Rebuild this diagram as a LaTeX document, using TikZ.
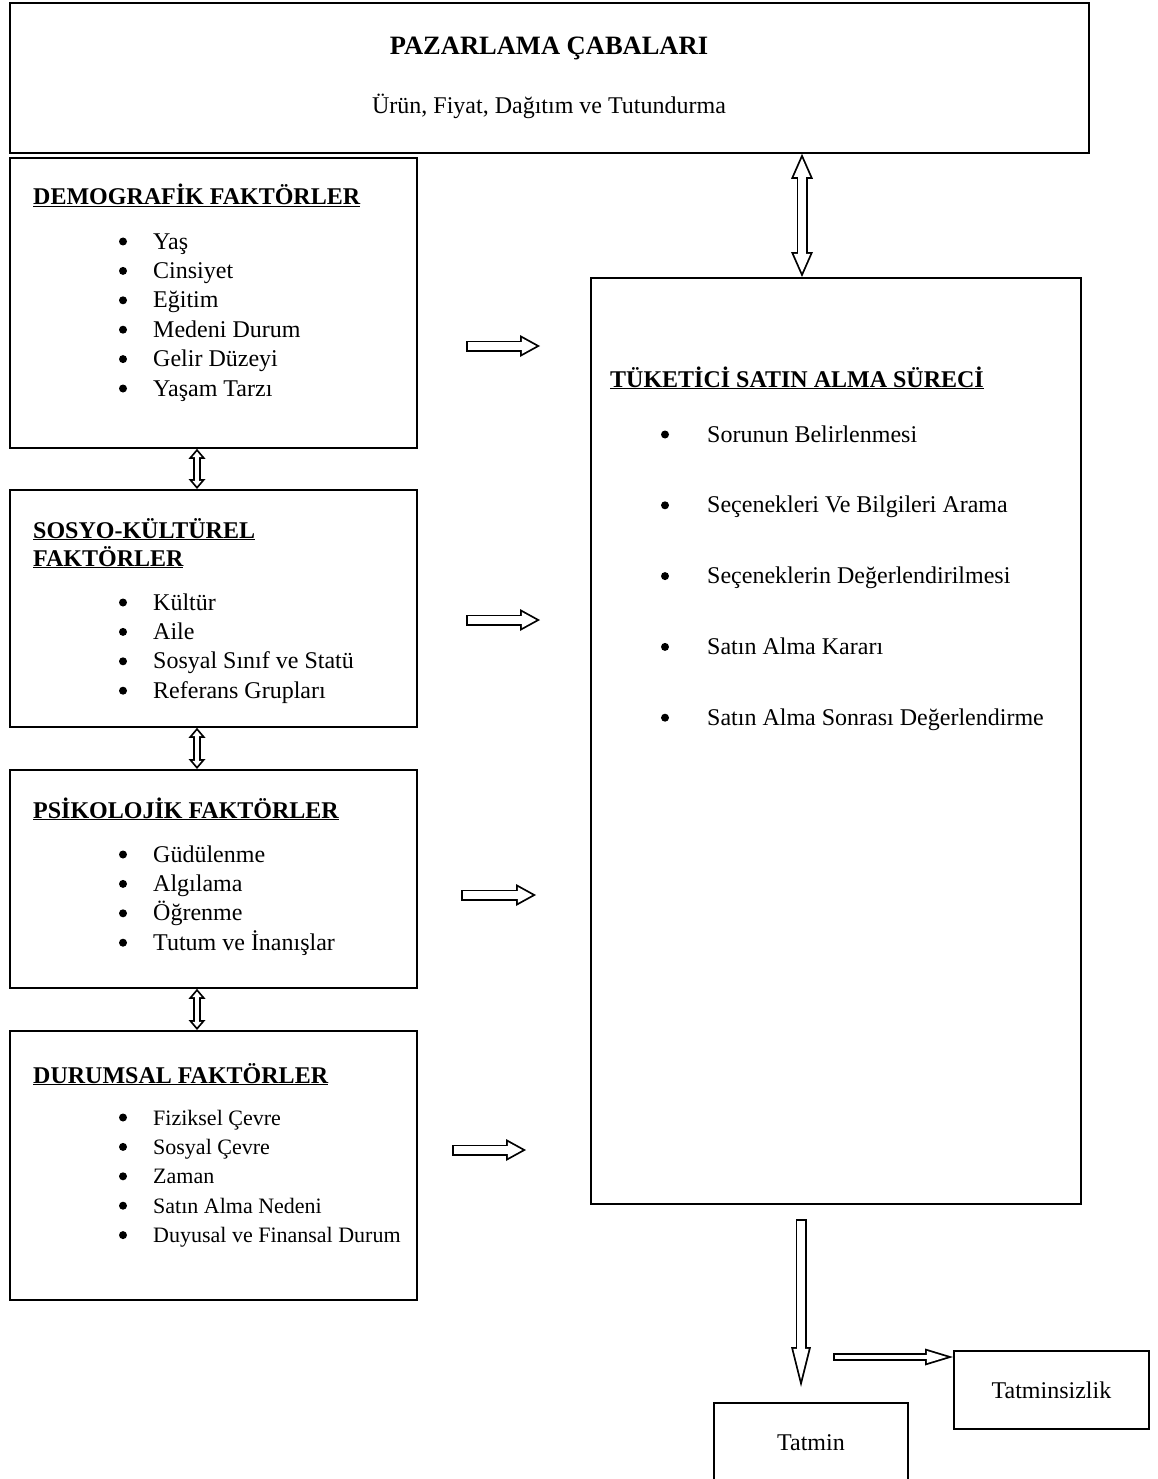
\documentclass[tikz,border=0pt]{standalone}
\usepackage{fontspec}
\setmainfont{Liberation Serif}
\usetikzlibrary{arrows.meta, positioning}

\newcommand{\basefont}{\fontsize{24pt}{29pt}\selectfont}
\tikzstyle{box} = [rectangle, draw, line width=1.8pt, inner sep=0pt, anchor=north west]
\tikzstyle{head} = [anchor=base west, inner sep=0pt, font=\basefont\bfseries]
\tikzstyle{item} = [anchor=base west, inner sep=0pt]
\tikzstyle{dot} = [circle, fill, inner sep=0pt, minimum size=8pt]
\tikzstyle{txt} = [anchor=base, inner sep=0pt]

% hollow block arrow: shaft / head length / head width
\newcommand{\hollowcalc}[3]{%
  \pgfmathsetmacro\hL{#2-1.8-1.8*sqrt(1+(2*#2/#3)^2)}%
  \pgfmathsetmacro\hW{#3*\hL/#2}%
  \pgfmathsetmacro\hS{#1-3.6}%
  \pgfmathsetmacro\hA{1.8*sqrt(1+(2*#2/#3)^2)}}
\tikzset{
  hollow/.code args={#1/#2/#3}{%
    \hollowcalc{#1}{#2}{#3}%
    \edef\hollowopts{line width=#1pt, -{Triangle[line width=0pt,length=#2pt,width=#3pt]},
      postaction={draw=white, line width=\hS pt, -{Triangle[line width=0pt,length=\hL pt,width=\hW pt]},
      shorten >=\hA pt, shorten <=1.8pt}}%
    \expandafter\pgfkeysalso\expandafter{\hollowopts}},
  hollowboth/.code args={#1/#2/#3}{%
    \hollowcalc{#1}{#2}{#3}%
    \edef\hollowopts{line width=#1pt, {Triangle[line width=0pt,length=#2pt,width=#3pt]}-{Triangle[line width=0pt,length=#2pt,width=#3pt]},
      postaction={draw=white, line width=\hS pt, {Triangle[line width=0pt,length=\hL pt,width=\hW pt]}-{Triangle[line width=0pt,length=\hL pt,width=\hW pt]},
      shorten >=\hA pt, shorten <=\hA pt}}%
    \expandafter\pgfkeysalso\expandafter{\hollowopts}},
}

\begin{document}
\begin{tikzpicture}[x=1pt, y=-1pt, font=\basefont]
    \useasboundingbox (0,0) rectangle (1158,1479);
    % Place boxes
    \node [box, minimum width=1079pt, minimum height=150pt] (pazar) at (9,2) {};
    \node [box, minimum width=407pt, minimum height=290pt] (demo) at (9,157) {};
    \node [box, minimum width=407pt, minimum height=237pt] (sosyo) at (9,489) {};
    \node [box, minimum width=407pt, minimum height=218pt] (psiko) at (9,769) {};
    \node [box, minimum width=407pt, minimum height=269pt] (durum) at (9,1030) {};
    \node [box, minimum width=490pt, minimum height=926pt] (tuketici) at (590,277) {};
    \node [box, minimum width=195pt, minimum height=78pt] (tatminsiz) at (953,1350) {Tatminsizlik};
    \node [box, minimum width=194pt, minimum height=80pt] (tatmin) at (713,1402) {Tatmin};
    % Texts
    \node [txt, font=\fontsize{26.5pt}{30pt}\selectfont\bfseries] (pazar_t) at (549,55) {PAZARLAMA ÇABALARI};
    \node [txt] (pazar_s) at (549,114) {Ürün, Fiyat, Dağıtım ve Tutundurma};
    \node [head] (demo_h) at (33,205) {\underline{DEMOGRAFİK FAKTÖRLER}};
    \foreach \t [count=\i] in {Yaş, Cinsiyet, Eğitim, Medeni Durum, Gelir Düzeyi, Yaşam Tarzı} {
        \node [dot] (demo_d\i) at (123,{241.5+29.4*(\i-1)}) {};
        \node [item] (demo_i\i) at (153,{249+29.4*(\i-1)}) {\t};
    }
    \node [head] (sosyo_h1) at (33,538) {\underline{SOSYO-KÜLTÜREL}};
    \node [head] (sosyo_h2) at (33,566) {\underline{FAKTÖRLER}};
    \foreach \t [count=\i] in {Kültür, Aile, Sosyal Sınıf ve Statü, Referans Grupları} {
        \node [dot] (sosyo_d\i) at (123,{602.5+29.4*(\i-1)}) {};
        \node [item] (sosyo_i\i) at (153,{610+29.4*(\i-1)}) {\t};
    }
    \node [head] (psiko_h) at (33,818) {\underline{PSİKOLOJİK FAKTÖRLER}};
    \foreach \t [count=\i] in {Güdülenme, Algılama, Öğrenme, Tutum ve İnanışlar} {
        \node [dot] (psiko_d\i) at (123,{854.5+29.4*(\i-1)}) {};
        \node [item] (psiko_i\i) at (153,{862+29.4*(\i-1)}) {\t};
    }
    \node [head] (durum_h) at (33,1083) {\underline{DURUMSAL FAKTÖRLER}};
    \foreach \t [count=\i] in {Fiziksel Çevre, Sosyal Çevre, Zaman, Satın Alma Nedeni, Duyusal ve Finansal Durum} {
        \node [dot] (durum_d\i) at (123,{1117.5+29.4*(\i-1)}) {};
        \node [item, font=\fontsize{22pt}{29pt}\selectfont] (durum_i\i) at (153,{1125+29.4*(\i-1)}) {\t};
    }
    \node [head] (tuketici_h) at (610,387) {\underline{TÜKETİCİ SATIN ALMA SÜRECİ}};
    \foreach \t [count=\i] in {Sorunun Belirlenmesi, Seçenekleri Ve Bilgileri Arama, Seçeneklerin Değerlendirilmesi, Satın Alma Kararı, Satın Alma Sonrası Değerlendirme} {
        \node [dot] (tuketici_d\i) at (665,{434.5+70.8*(\i-1)}) {};
        \node [item] (tuketici_i\i) at (707,{442+70.8*(\i-1)}) {\t};
    }
    % Arrow ends
    \coordinate (vx) at (802,0);
    \coordinate (lx) at (197,0);
    \coordinate (s1) at (466,346); \coordinate (e1) at (540,346);
    \coordinate (s2) at (466,620); \coordinate (e2) at (540,620);
    \coordinate (s3) at (461,895); \coordinate (e3) at (536,895);
    \coordinate (s4) at (452,1150); \coordinate (e4) at (526,1150);
    \coordinate (dn_s) at (801,1219); \coordinate (dn_e) at (801,1387);
    \coordinate (tr_s) at (833,1357);
    % Draw arrows
    \draw [hollowboth=11/25/22] (pazar.south -| vx) -- (tuketici.north -| vx);
    \draw [hollowboth=8/10/17] (demo.south -| lx) -- (sosyo.north -| lx);
    \draw [hollowboth=8/10/17] (sosyo.south -| lx) -- (psiko.north -| lx);
    \draw [hollowboth=8/10/17] (psiko.south -| lx) -- (durum.north -| lx);
    \draw [hollow=11/20/22] (s1) -- (e1);
    \draw [hollow=11/20/22] (s2) -- (e2);
    \draw [hollow=11/20/22] (s3) -- (e3);
    \draw [hollow=11/20/22] (s4) -- (e4);
    \draw [hollow=11/40/20] (dn_s) -- (dn_e);
    \draw [hollow=8/28/17] (tr_s) -- (tr_s -| tatminsiz.west);
\end{tikzpicture}
\end{document}
